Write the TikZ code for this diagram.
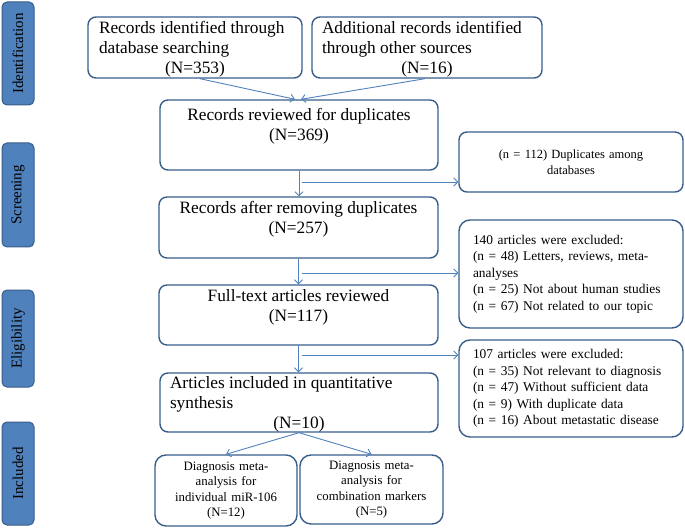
\documentclass[tikz,border=0pt]{standalone}
\usepackage{fontspec}
\setmainfont{Liberation Serif}
\usetikzlibrary{arrows.meta}

\definecolor{boxline}{RGB}{56,93,138}
\definecolor{arrowblue}{RGB}{79,129,189}
\definecolor{sidefill}{RGB}{79,129,189}

% text block pinned to the top of a box: width, height, content
\newcommand{\toptext}[3]{\parbox[c][#2][t]{#1}{#3}}
% wider word gaps for the small boxes
\newcommand{\widesp}{\spaceskip=0.34em\relax}

\begin{document}
\begin{tikzpicture}[
        x=1pt, y=-1pt,
        bigbox/.style={draw=boxline, line width=1.4pt, rounded corners=8pt,
            inner sep=0pt, font=\fontsize{17.3}{20}\selectfont},
        smallbox/.style={draw=boxline, line width=1.4pt, rounded corners=11pt,
            inner sep=0pt, font=\fontsize{13.4}{16.4}\selectfont},
        sidelab/.style={draw=boxline, fill=sidefill, line width=1pt,
            rounded corners=5pt, rotate=90, minimum height=32pt,
            font=\fontsize{15}{18}\selectfont},
        arr/.style={draw=arrowblue, line width=0.9pt,
            -{Straight Barb[length=4pt,width=8pt]}}
    ]
    \useasboundingbox (0,0) rectangle (685,529);

    % Phase labels on the left:
    \foreach \yc/\len/\lab/\txt in {53.5/103/ident/Identification,
            195/104/screen/Screening, 338.5/97/elig/Eligibility,
            473.5/103/incl/Included}
        \node[sidelab, minimum width=\len pt] (\lab) at (18,\yc) {\txt};

    % Main column:
    \node[bigbox, minimum width=214pt, minimum height=61pt] (dbsearch) at (195,47.5)
        {\toptext{192pt}{52pt}{\raggedright Records identified through\\database searching\par
            \centering (N=353)}};
    \node[bigbox, minimum width=230pt, minimum height=61pt] (othersrc) at (427,47.5)
        {\toptext{210pt}{52pt}{\raggedright Additional records identified\\through other sources\par
            \centering (N=16)}};
    \node[bigbox, minimum width=278pt, minimum height=70pt] (reviewed) at (299,135)
        {\toptext{258pt}{53pt}{\centering Records reviewed for duplicates\\(N=369)}};
    \node[bigbox, minimum width=279pt, minimum height=61pt] (removed) at (298.5,227.5)
        {\toptext{259pt}{52pt}{\centering Records after removing duplicates\\(N=257)}};
    \node[bigbox, minimum width=279pt, minimum height=60pt] (fulltext) at (298.5,315)
        {\toptext{259pt}{52pt}{\centering Full-text articles reviewed\\(N=117)}};
    \node[bigbox, minimum width=278pt, minimum height=59pt] (included) at (299,402.5)
        {\toptext{258pt}{52pt}{\raggedright Articles included in quantitative\\synthesis\par
            \centering (N=10)}};

    % Exclusion boxes on the right:
    \node[smallbox, rounded corners=8pt, minimum width=224pt, minimum height=60pt,
        text width=200pt, align=center,
        font=\fontsize{12.5}{16.5}\selectfont] (dupl) at (571,162)
        {\widesp (n = 112) Duplicates among\\databases};
    \node[smallbox, minimum width=224pt, minimum height=108pt, text width=196pt,
        align=left] (excl1) at (571,274)
        {\widesp 140 articles were excluded:\\(n = 48) Letters, reviews, meta-\\analyses\\
         (n = 25) Not about human studies\\(n = 67) Not related to our topic};
    \node[smallbox, minimum width=224pt, minimum height=97pt, text width=196pt,
        align=left] (excl2) at (571,388.5)
        {\widesp 107 articles were excluded:\\(n = 35) Not relevant to diagnosis\\
         (n = 47) Without sufficient data\\(n = 9) With duplicate data\\
         (n = 16) About metastatic disease};

    % Final split:
    \node[smallbox, minimum width=142pt, minimum height=71pt, text width=130pt,
        align=center, font=\fontsize{12.8}{15.3}\selectfont] (indiv) at (226,490.5)
        {\widesp Diagnosis meta-\\analysis for\\individual miR-106\\(N=12)};
    \node[smallbox, minimum width=143pt, minimum height=69pt, text width=131pt,
        align=center, font=\fontsize{12.8}{15.3}\selectfont] (combi) at (371.5,489.5)
        {\widesp Diagnosis meta-\\analysis for\\combination markers\\(N=5)};

    % Arrows:
    \draw[arr] ([xshift=5pt]dbsearch.south) -- ([xshift=-4pt]reviewed.north);
    \draw[arr] ([xshift=-2pt]othersrc.south) -- ([xshift=2pt]reviewed.north);
    \foreach \a/\b in {reviewed/removed, removed/fulltext, fulltext/included}
        \draw[arr] (\a.south) -- (\a.south |- \b.north);

    \coordinate (br1) at (302,182);
    \coordinate (br2) at (302,273);
    \coordinate (br3) at (302,355);
    \foreach \c/\t in {br1/dupl, br2/excl1, br3/excl2}
        \draw[arr] (\c) -- (\c -| \t.west);

    \draw[arr] (included.south) -- (indiv.north);
    \draw[arr] (included.south) -- (combi.north);
\end{tikzpicture}
\end{document}
